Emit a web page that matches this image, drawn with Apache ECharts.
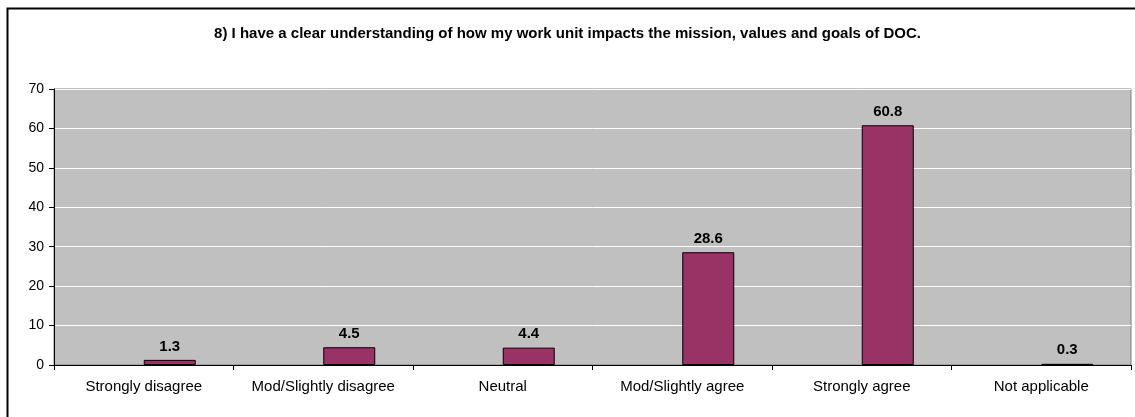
<!DOCTYPE html>
<html>
<head>
<meta charset="utf-8">
<script src="https://cdn.jsdelivr.net/npm/echarts@6/dist/echarts.min.js"></script>
<style>
  html, body { margin: 0; padding: 0; background: #fff; }
  #chart { width: 1135px; height: 417px; }
</style>
</head>
<body>
<div id="chart"></div>
<script>
const categories = ['Strongly disagree', 'Mod/Slightly disagree', 'Neutral', 'Mod/Slightly agree', 'Strongly agree', 'Not applicable']
const percents = [1.3, 4.5, 4.4, 28.6, 60.8, 0.3]
// the source chart keeps an empty first series, so bars sit right of the category centre
const emptySeries = ['-', '-', '-', '-', '-', '-']
const yTicks = [0, 10, 20, 30, 40, 50, 60, 70]
const titleText = '8) I have a clear understanding of how my work unit impacts the mission, values and goals of DOC.'

const fontFamily = 'Liberation Sans, Arial, sans-serif'
const chart = echarts.init(document.getElementById('chart'))

chart.setOption({
  animation: false,
  textStyle: { fontFamily },
  title: {
    text: titleText,
    left: 'center',
    top: 21,
    textStyle: { fontSize: 15, fontWeight: 'bold', color: '#000', fontFamily }
  },
  graphic: [
    {
      type: 'rect',
      left: 5,
      top: 6,
      shape: { width: 1150, height: 430 },
      style: { fill: 'none', stroke: '#000', lineWidth: 2 },
      z: 100
    }
  ],
  grid: {
    left: 54,
    right: 4,
    top: 89,
    bottom: 52,
    show: true,
    backgroundColor: '#c0c0c0',
    borderColor: '#808080',
    borderWidth: 1
  },
  xAxis: {
    type: 'category',
    data: categories,
    axisLine: { lineStyle: { color: '#000', width: 1 } },
    axisTick: { show: true, interval: 0, length: 5, lineStyle: { color: '#000' } },
    axisLabel: { color: '#000', fontSize: 15, margin: 14, interval: 0 }
  },
  yAxis: {
    type: 'value',
    min: yTicks[0],
    max: yTicks[yTicks.length - 1],
    interval: yTicks[1] - yTicks[0],
    axisLine: { show: true, lineStyle: { color: '#000', width: 1 } },
    axisTick: { show: true, length: 5, lineStyle: { color: '#000' } },
    axisLabel: { color: '#000', fontSize: 14, margin: 10 },
    splitLine: { lineStyle: { color: '#ffffff', width: 1 } }
  },
  series: [
    {
      type: 'bar',
      data: emptySeries,
      barWidth: 52,
      barGap: '0%',
      silent: true
    },
    {
      type: 'bar',
      data: percents,
      barWidth: 52,
      barGap: '0%',
      itemStyle: { color: '#993366', borderColor: '#000', borderWidth: 1 },
      label: {
        show: true,
        position: 'top',
        distance: 6,
        color: '#000',
        fontSize: 15,
        fontWeight: 'bold'
      }
    }
  ]
})
</script>
</body>
</html>
